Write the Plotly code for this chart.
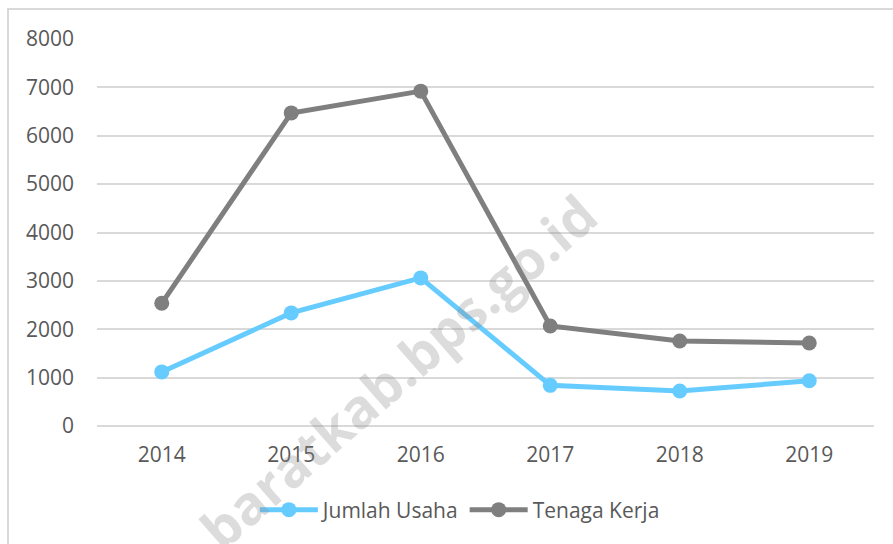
import plotly.graph_objects as go

# Data
years = ["2014", "2015", "2016", "2017", "2018", "2019"]
jumlah_usaha = [1118, 2338, 3062, 840, 722, 934]
tenaga_kerja = [2536, 6472, 6922, 2068, 1756, 1716]
y_ticks = [0, 1000, 2000, 3000, 4000, 5000, 6000, 7000, 8000]

BLUE = "#66CCFF"
GRAY = "#7F7F7F"
TEXT = "#595959"
GRID = "#D9D9D9"
FONT = "Open Sans"

fig = go.Figure()
fig.add_trace(go.Scatter(
    x=years, y=jumlah_usaha, name="Jumlah Usaha", mode="lines+markers",
    line=dict(color=BLUE, width=5), marker=dict(color=BLUE, size=15),
))
fig.add_trace(go.Scatter(
    x=years, y=tenaga_kerja, name="Tenaga Kerja", mode="lines+markers",
    line=dict(color=GRAY, width=5), marker=dict(color=GRAY, size=15),
))

L, R, T, B = 97, 19, 39, 118
W, H = 893, 544
pw, ph = W - L - R, H - T - B

# outer chart border (extends past the right and bottom edges)
fig.add_shape(type="rect", xref="paper", yref="paper",
              x0=(8 - L) / pw, x1=1.3, y0=-0.6, y1=1 + (T - 9) / ph,
              line=dict(color=GRID, width=2), fillcolor="rgba(0,0,0,0)", layer="below")

# watermark
fig.add_annotation(
    text="<b>baratkab.bps.go.id</b>", xref="paper", yref="paper",
    x=(398 - L) / pw, y=(H - B - 371) / ph, xanchor="center", yanchor="middle",
    textangle=-41.2, showarrow=False,
    font=dict(family=FONT, size=54, color="rgba(140,140,140,0.3)"),
)

fig.update_layout(
    width=W, height=H,
    margin=dict(l=L, r=R, t=T, b=B),
    paper_bgcolor="white", plot_bgcolor="white",
    font=dict(family=FONT, size=21, color=TEXT),
    showlegend=True,
    legend=dict(orientation="h", x=0.467, xanchor="center", y=(H - B - 510) / ph,
                yanchor="middle", font=dict(family=FONT, size=21, color=TEXT),
                itemwidth=58, bgcolor="rgba(0,0,0,0)"),
    xaxis=dict(type="category", range=[-0.5, 5.5], showgrid=False, showline=False,
               zeroline=False, ticks="", ticklabelstandoff=14,
               tickfont=dict(family=FONT, size=21, color=TEXT)),
    yaxis=dict(range=[0, 8000], tickvals=y_ticks, showgrid=True, gridcolor=GRID,
               gridwidth=1.5, zeroline=True, zerolinecolor=GRID, zerolinewidth=1.5,
               showline=False, ticks="", ticklabelstandoff=22,
               tickfont=dict(family=FONT, size=21, color=TEXT)),
)

fig.write_html("out.html")
